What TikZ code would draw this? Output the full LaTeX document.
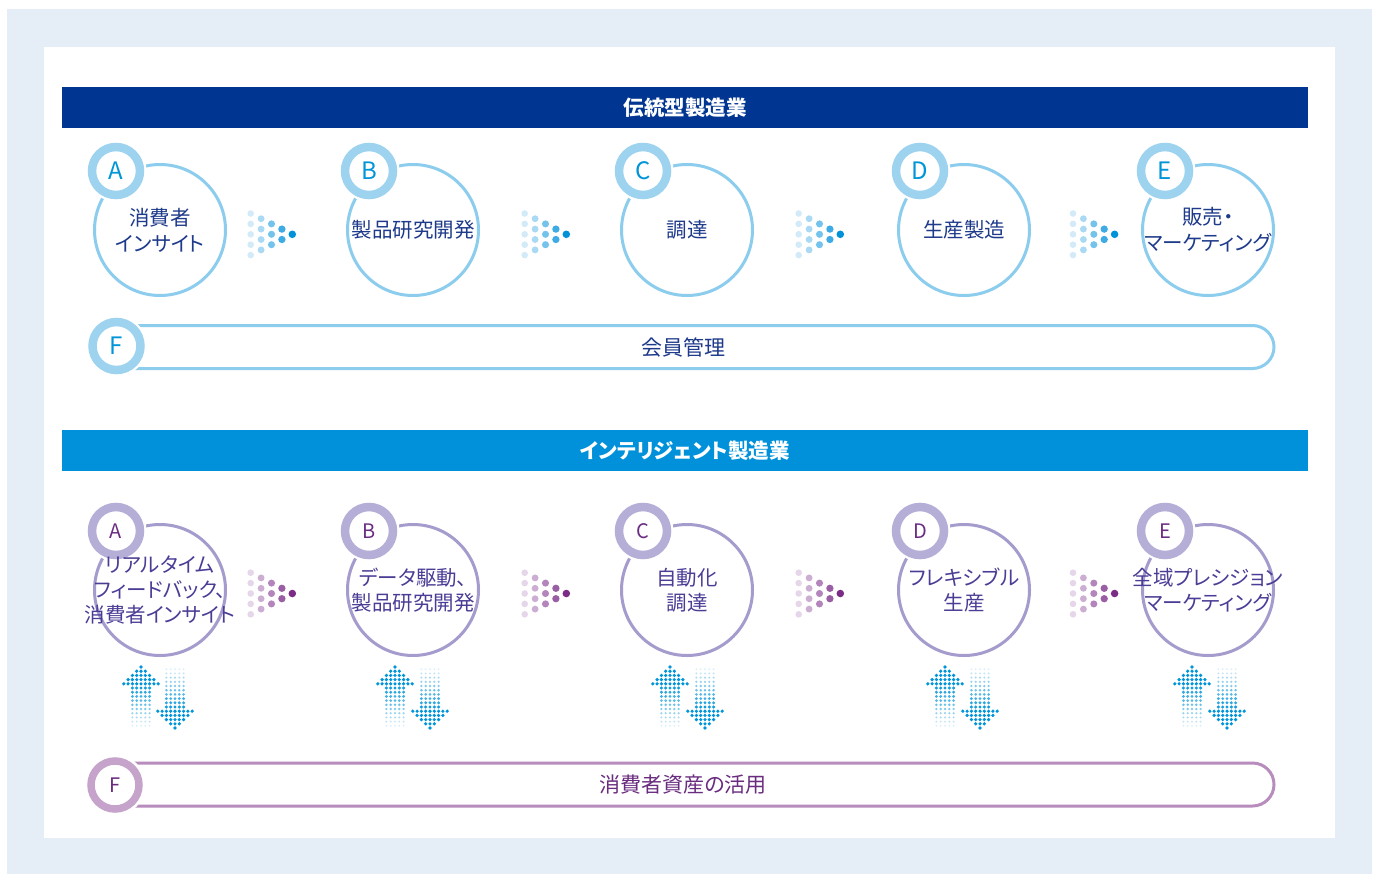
\documentclass[tikz,border=0pt]{standalone}
\usepackage{fontspec}
\setmainfont{Noto Sans CJK JP}[RawFeature=+palt]
\definecolor{bgout}{HTML}{E5EDF6}
\definecolor{navy}{HTML}{003591}
\definecolor{cyanhdr}{HTML}{0091DA}
\definecolor{ringblue}{HTML}{9DD3EF}
\definecolor{circblue}{HTML}{8CCDEE}
\definecolor{letterblue}{HTML}{0095D9}
\definecolor{textnavy}{HTML}{1E3A8A}
\definecolor{ringlav}{HTML}{B5AED7}
\definecolor{circlav}{HTML}{A59BCD}
\definecolor{letterpurple}{HTML}{6B2D83}
\definecolor{textpurp}{HTML}{4B3D96}
\definecolor{barmauve}{HTML}{B88CBC}
\definecolor{ringmauve}{HTML}{C6A3CB}
\definecolor{fpurple}{HTML}{6A2C7F}
\definecolor{arrb}{HTML}{0095D9}
\definecolor{cb0}{HTML}{D3EAF8}
\definecolor{cb1}{HTML}{A9D9F3}
\definecolor{cb2}{HTML}{73C3EC}
\definecolor{cb3}{HTML}{3FABE5}
\definecolor{cb4}{HTML}{0091D9}
\definecolor{cp0}{HTML}{E6D6EA}
\definecolor{cp1}{HTML}{CDAED3}
\definecolor{cp2}{HTML}{B385BC}
\definecolor{cp3}{HTML}{9A5EA4}
\definecolor{cp4}{HTML}{7B2C84}
\tikzset{
  hdr/.style={minimum width=1246, minimum height=41, inner sep=0, text=white,
    font=\fontsize{20.5}{24}\selectfont\bfseries},
  bigc/.style={circle, draw=#1, line width=3, minimum size=131, inner sep=0},
  topt/.style={text=textnavy, align=center, inner sep=0, font=\fontsize{20.5}{26}\selectfont},
  bott/.style={text=textpurp, align=center, inner sep=0, font=\fontsize{20.5}{25}\selectfont},
  letc/.style={circle, draw=#1, line width=8.5, fill=white, minimum size=48, inner sep=0,
    preaction={draw=white, line width=13}},
  fbar/.style={draw=#1, line width=3, rounded corners=21.5, minimum width=1182,
    minimum height=43, inner sep=0, font=\fontsize{21}{25}\selectfont},
}
\newcommand\chev[3]{%
  \foreach \n in {0,...,4}{%
    \pgfmathtruncatemacro\m{4-\n}%
    \foreach \j in {0,...,\m}{%
      \fill[#3\n] ({#1+10.4*\n},{#2+(\j-\m/2)*10.4}) circle ({3.3+0.12*\n});
    }}}
\newcommand\updn[2]{%
  \foreach \i in {0,...,4}{%
    \pgfmathtruncatemacro\kk{2*\i}%
    \foreach \j in {0,...,\kk}{%
      \fill[arrb] ({#1+4.3*(\j-\i)},{667+4.2*\i}) circle (1.8);
      \fill[arrb] ({#2+4.3*(\j-\i)},{728-4.2*\i}) circle (1.8);
    }}
  \foreach \k in {1,...,10}{%
    \pgfmathsetmacro\op{1-0.085*\k}%
    \pgfmathsetmacro\rr{1.8-0.08*\k}%
    \foreach \j in {-2,...,2}{%
      \fill[arrb, opacity=\op] ({#1+4.3*\j},{667+4.2*(4+\k)}) circle (\rr);
      \fill[arrb, opacity=\op] ({#2+4.3*\j},{728-4.2*(4+\k)}) circle (\rr);
    }}}
\begin{document}
\begin{tikzpicture}[x=1pt, y=-1pt]
\useasboundingbox (0,0) rectangle (1376,876);
\fill[white] (0,0) rectangle (1376,876);
\fill[bgout] (7,9) rectangle (1372,874);
\fill[white] (44,47) rectangle (1335,838);

% headers
\node[hdr, fill=navy] (H1) at (685,107.5) {伝統型製造業};
\node[hdr, fill=cyanhdr] (H2) at (685,450.5) {インテリジェント製造業};

% top row
\foreach \nm/\x in {TA/160, TB/413, TC/687, TD/964, TE/1208}{
  \node[bigc=circblue] (\nm) at (\x,230) {};
}
\foreach \nm/\x/\l in {TA/116/A, TB/369/B, TC/643/C, TD/920/D, TE/1165/E}{
  \node[letc=ringblue, text=letterblue, font=\fontsize{24}{24}\selectfont] (\nm l) at (\x,171) {\l};
}
\node[topt] (TAt) at (TA) {消費者\\インサイト};
\node[topt] (TBt) at (TB) {製品研究開発};
\node[topt] (TCt) at (TC) {調達};
\node[topt] (TDt) at (TD) {生産製造};
\node[topt] (TEt) at (TE) {販売・\\マーケティング};
\chev{250.7}{234.3}{cb}
\chev{524.7}{234.3}{cb}
\chev{798.7}{234.3}{cb}
\chev{1073}{234.3}{cb}

\node[fbar=circblue, text=textnavy] (TF) at (683,347) {会員管理};
\node[letc=ringblue, text=letterblue, font=\fontsize{24}{24}\selectfont] (TFl) at (116.5,346) {F};

% bottom row
\foreach \nm/\x in {BA/160, BB/413, BC/687, BD/964, BE/1208}{
  \node[bigc=circlav] (\nm) at (\x,590) {};
}
\foreach \nm/\x/\l in {BA/116/A, BB/369/B, BC/643/C, BD/920/D, BE/1165/E}{
  \node[letc=ringlav, text=letterpurple, font=\fontsize{20}{20}\selectfont] (\nm l) at (\x,531) {\l};
}
\node[bott] (BAt) at (BA) {リアルタイム\\フィードバック、\\消費者インサイト};
\node[bott] (BBt) at (BB) {データ駆動、\\製品研究開発};
\node[bott] (BCt) at (BC) {自動化\\調達};
\node[bott] (BDt) at (BD) {フレキシブル\\生産};
\node[bott] (BEt) at (BE) {全域プレシジョン\\マーケティング};
\chev{250.7}{593.5}{cp}
\chev{524.7}{593.5}{cp}
\chev{798.7}{593.5}{cp}
\chev{1073}{593.5}{cp}

\updn{141}{175}
\updn{395}{430}
\updn{670}{705}
\updn{945}{980}
\updn{1192}{1227}

\node[fbar=barmauve, text=fpurple] (BF) at (683,784.5) {消費者資産の活用};
\node[letc=ringmauve, line width=7.5, text=fpurple, font=\fontsize{20}{20}\selectfont] (BFl) at (115,785) {F};
\end{tikzpicture}
\end{document}
